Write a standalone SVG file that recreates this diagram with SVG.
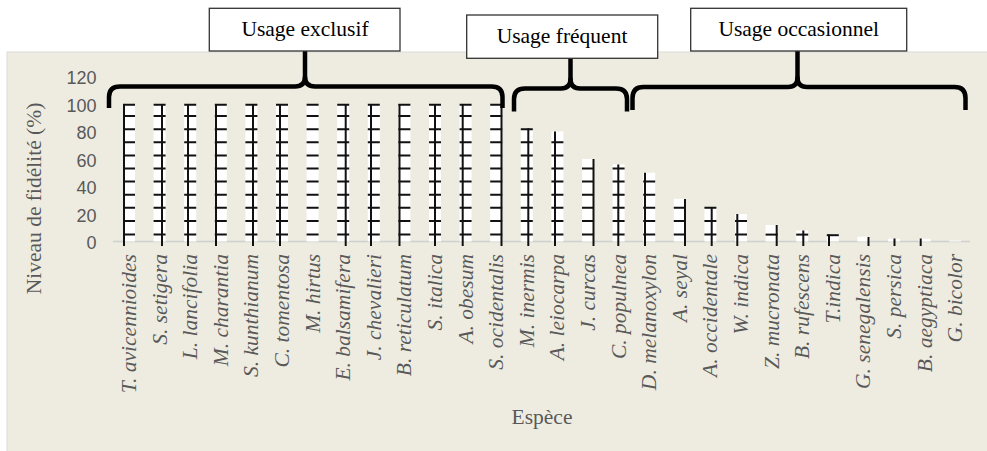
<svg xmlns="http://www.w3.org/2000/svg" width="987" height="451" viewBox="0 0 987 451">
<style>
.serif{font-family:"Liberation Serif","Times New Roman",serif}
.tick{font-family:"Liberation Sans",Arial,sans-serif;font-size:18px;fill:#595959;text-anchor:end}
.sp{font-family:"Liberation Serif","Times New Roman",serif;font-style:italic;font-size:21.5px;fill:#595959;text-anchor:end}
.bar{fill:#ffffff}
.dash{stroke:#111;stroke-width:2;fill:none}
.vl{stroke:#111;stroke-width:2;fill:none}
.box{fill:#ffffff;stroke:#333;stroke-width:1.3}
.boxt{font-family:"Liberation Serif","Times New Roman",serif;font-size:21.5px;fill:#000;text-anchor:middle}
.brace{fill:none;stroke:#000;stroke-width:4.5;stroke-linejoin:round;stroke-linecap:butt}
</style>
<rect x="0" y="0" width="987" height="451" fill="#ffffff"/>
<rect id="plot-area" x="7" y="52" width="985" height="404" fill="#EEECE1" stroke="#D9D9D9" stroke-width="1"/>

<g id="y-axis">
<text class="tick" x="96.5" y="249">0</text>
<text class="tick" x="96.5" y="221.5">20</text>
<text class="tick" x="96.5" y="194">40</text>
<text class="tick" x="96.5" y="166.5">60</text>
<text class="tick" x="96.5" y="139">80</text>
<text class="tick" x="96.5" y="111.5">100</text>
<text class="tick" x="96.5" y="84">120</text>
<text class="serif" transform="translate(40.5,198.5) rotate(-90)" text-anchor="middle" font-size="21.5" fill="#595959">Niveau de fidélité (%)</text>
</g>

<line id="x-axis" x1="113" y1="241.5" x2="970" y2="241.5" stroke="#CFCFCF" stroke-width="1.5"/>

<g id="bars">
<!-- 13 bars at 100% -->
<g id="bar-1"><rect class="bar" x="123" y="104" width="12" height="137.5"/><path class="dash" d="M123,234.6h12M123,221.1h12M123,207.8h12M123,194.8h12M123,181.6h12M123,168.5h12M123,155.5h12M123,142.3h12M123,129.3h12M123,116.1h12M123,104.7h12"/><path class="vl" d="M124,104V246"/></g>
<g id="bar-2"><rect class="bar" x="153.6" y="104" width="12" height="137.5"/><path class="dash" d="M153.6,234.6h12M153.6,221.1h12M153.6,207.8h12M153.6,194.8h12M153.6,181.6h12M153.6,168.5h12M153.6,155.5h12M153.6,142.3h12M153.6,129.3h12M153.6,116.1h12M153.6,104.7h12"/><path class="vl" d="M162,104V246"/></g>
<g id="bar-3"><rect class="bar" x="184.2" y="104" width="12" height="137.5"/><path class="dash" d="M184.2,234.6h12M184.2,221.1h12M184.2,207.8h12M184.2,194.8h12M184.2,181.6h12M184.2,168.5h12M184.2,155.5h12M184.2,142.3h12M184.2,129.3h12M184.2,116.1h12M184.2,104.7h12"/><path class="vl" d="M188,104V246"/></g>
<g id="bar-4"><rect class="bar" x="214.8" y="104" width="12" height="137.5"/><path class="dash" d="M214.8,234.6h12M214.8,221.1h12M214.8,207.8h12M214.8,194.8h12M214.8,181.6h12M214.8,168.5h12M214.8,155.5h12M214.8,142.3h12M214.8,129.3h12M214.8,116.1h12M214.8,104.7h12"/><path class="vl" d="M216,104V246"/></g>
<g id="bar-5"><rect class="bar" x="245.4" y="104" width="12" height="137.5"/><path class="dash" d="M245.4,234.6h12M245.4,221.1h12M245.4,207.8h12M245.4,194.8h12M245.4,181.6h12M245.4,168.5h12M245.4,155.5h12M245.4,142.3h12M245.4,129.3h12M245.4,116.1h12M245.4,104.7h12"/><path class="vl" d="M253,104V246"/></g>
<g id="bar-6"><rect class="bar" x="276" y="104" width="12" height="137.5"/><path class="dash" d="M276,234.6h12M276,221.1h12M276,207.8h12M276,194.8h12M276,181.6h12M276,168.5h12M276,155.5h12M276,142.3h12M276,129.3h12M276,116.1h12M276,104.7h12"/><path class="vl" d="M280,104V246"/></g>
<g id="bar-7"><rect class="bar" x="306.6" y="104" width="12" height="137.5"/><path class="dash" d="M306.6,234.6h12M306.6,221.1h12M306.6,207.8h12M306.6,194.8h12M306.6,181.6h12M306.6,168.5h12M306.6,155.5h12M306.6,142.3h12M306.6,129.3h12M306.6,116.1h12M306.6,104.7h12"/></g>
<g id="bar-8"><rect class="bar" x="337.2" y="104" width="12" height="137.5"/><path class="dash" d="M337.2,234.6h12M337.2,221.1h12M337.2,207.8h12M337.2,194.8h12M337.2,181.6h12M337.2,168.5h12M337.2,155.5h12M337.2,142.3h12M337.2,129.3h12M337.2,116.1h12M337.2,104.7h12"/><path class="vl" d="M345.7,104V246"/></g>
<g id="bar-9"><rect class="bar" x="367.8" y="104" width="12" height="137.5"/><path class="dash" d="M367.8,234.6h12M367.8,221.1h12M367.8,207.8h12M367.8,194.8h12M367.8,181.6h12M367.8,168.5h12M367.8,155.5h12M367.8,142.3h12M367.8,129.3h12M367.8,116.1h12M367.8,104.7h12"/><path class="vl" d="M371,104V246"/></g>
<g id="bar-10"><rect class="bar" x="398.4" y="104" width="12" height="137.5"/><path class="dash" d="M398.4,234.6h12M398.4,221.1h12M398.4,207.8h12M398.4,194.8h12M398.4,181.6h12M398.4,168.5h12M398.4,155.5h12M398.4,142.3h12M398.4,129.3h12M398.4,116.1h12M398.4,104.7h12"/><path class="vl" d="M399.5,104V246" stroke="#888"/></g>
<g id="bar-11"><rect class="bar" x="429" y="104" width="12" height="137.5"/><path class="dash" d="M429,234.6h12M429,221.1h12M429,207.8h12M429,194.8h12M429,181.6h12M429,168.5h12M429,155.5h12M429,142.3h12M429,129.3h12M429,116.1h12M429,104.7h12"/><path class="vl" d="M435,104V246"/></g>
<g id="bar-12"><rect class="bar" x="459.6" y="104" width="12" height="137.5"/><path class="dash" d="M459.6,234.6h12M459.6,221.1h12M459.6,207.8h12M459.6,194.8h12M459.6,181.6h12M459.6,168.5h12M459.6,155.5h12M459.6,142.3h12M459.6,129.3h12M459.6,116.1h12M459.6,104.7h12"/><path class="vl" d="M462.7,104V246"/></g>
<g id="bar-13"><rect class="bar" x="490.2" y="104" width="12" height="137.5"/><path class="dash" d="M490.2,234.6h12M490.2,221.1h12M490.2,207.8h12M490.2,194.8h12M490.2,181.6h12M490.2,168.5h12M490.2,155.5h12M490.2,142.3h12M490.2,129.3h12M490.2,116.1h12M490.2,104.7h12"/><path class="vl" d="M501.5,104V246"/></g>
<!-- frequent -->
<g id="bar-14"><rect class="bar" x="520.8" y="128.75" width="12" height="112.75"/><path class="dash" d="M520.8,234.6h12M520.8,221.1h12M520.8,207.8h12M520.8,194.8h12M520.8,181.6h12M520.8,168.5h12M520.8,155.5h12M520.8,142.3h12M520.8,129.3h12"/><path class="vl" d="M528.3,128.3V246"/></g>
<g id="bar-15"><rect class="bar" x="551.4" y="131.5" width="12" height="110"/><path class="dash" d="M551.4,234.6h12M551.4,221.1h12M551.4,207.8h12M551.4,194.8h12M551.4,181.6h12M551.4,168.5h12M551.4,155.5h12M551.4,142.3h12"/><path class="vl" d="M555,131.5V246"/></g>
<g id="bar-16"><rect class="bar" x="582" y="159" width="12" height="82.5"/><path class="dash" d="M582,234.6h12M582,221.1h12M582,207.8h12M582,194.8h12M582,181.6h12M582,168.5h12"/><path class="vl" d="M593.5,159V246"/></g>
<g id="bar-17"><rect class="bar" x="612.6" y="164.5" width="12" height="77"/><path class="dash" d="M612.6,234.6h12M612.6,221.1h12M612.6,207.8h12M612.6,194.8h12M612.6,181.6h12M612.6,168.5h12"/><path class="vl" d="M618.3,164.5V246"/></g>
<!-- occasional -->
<g id="bar-18"><rect class="bar" x="643.2" y="172.75" width="12" height="68.75"/><path class="dash" d="M643.2,234.6h12M643.2,221.1h12M643.2,207.8h12M643.2,194.8h12M643.2,181.6h12"/><path class="vl" d="M645,172.75V246"/></g>
<g id="bar-19"><rect class="bar" x="673.8" y="198.9" width="12" height="42.6"/><path class="dash" d="M673.8,234.6h12M673.8,221.1h12M673.8,207.8h12"/><path class="vl" d="M685,198.9V246"/></g>
<g id="bar-20"><rect class="bar" x="704.4" y="207.1" width="12" height="34.4"/><path class="dash" d="M704.4,234.6h12M704.4,221.1h12M704.4,207.8h12"/><path class="vl" d="M711.7,207.1V246"/></g>
<g id="bar-21"><rect class="bar" x="735" y="214" width="12" height="27.5"/><path class="dash" d="M735,234.6h12M735,221.1h12"/><path class="vl" d="M737.3,214V246"/></g>
<g id="bar-22"><rect class="bar" x="765.6" y="225" width="12" height="16.5"/><path class="dash" d="M765.6,234.6h12"/><path class="vl" d="M776.7,225V246"/></g>
<g id="bar-23"><rect class="bar" x="796.2" y="230.5" width="12" height="11"/><path class="dash" d="M796.2,234.6h12"/><path class="vl" d="M803.3,230.5V246"/></g>
<g id="bar-24"><rect class="bar" x="826.8" y="234.6" width="12" height="6.9"/><path class="dash" d="M826.8,235.2h12"/><path class="vl" d="M829,234.6V246"/></g>
<g id="bar-25"><rect class="bar" x="857.4" y="236.7" width="12" height="4.8"/><path class="vl" d="M868.5,237V246"/></g>
<g id="bar-26"><rect class="bar" x="888" y="238.75" width="12" height="2.75"/><path class="vl" d="M894.5,238.5V246"/></g>
<g id="bar-27"><rect class="bar" x="918.6" y="238.75" width="12" height="2.75"/><path class="vl" d="M920.7,238.5V246"/></g>
<g id="bar-28"><rect class="bar" x="949.2" y="240.5" width="12" height="1"/></g>
</g>

<g id="x-labels">
<text class="sp" transform="translate(136,254) rotate(-90)">T. avicennioides</text>
<text class="sp" transform="translate(166.6,254) rotate(-90)">S. setigera</text>
<text class="sp" transform="translate(197.2,254) rotate(-90)">L. lancifolia</text>
<text class="sp" transform="translate(227.8,254) rotate(-90)">M. charantia</text>
<text class="sp" transform="translate(258.4,254) rotate(-90)">S. kunthianum</text>
<text class="sp" transform="translate(289,254) rotate(-90)">C. tomentosa</text>
<text class="sp" transform="translate(319.6,254) rotate(-90)">M. hirtus</text>
<text class="sp" transform="translate(350.2,254) rotate(-90)">E. balsamifera</text>
<text class="sp" transform="translate(380.8,254) rotate(-90)">J. chevalieri</text>
<text class="sp" transform="translate(411.4,254) rotate(-90)">B. reticulatum</text>
<text class="sp" transform="translate(442,254) rotate(-90)">S. italica</text>
<text class="sp" transform="translate(472.6,254) rotate(-90)">A. obesum</text>
<text class="sp" transform="translate(503.2,254) rotate(-90)">S. ocidentalis</text>
<text class="sp" transform="translate(533.8,254) rotate(-90)">M. inermis</text>
<text class="sp" transform="translate(564.4,254) rotate(-90)">A. leiocarpa</text>
<text class="sp" transform="translate(595,254) rotate(-90)">J. curcas</text>
<text class="sp" transform="translate(625.6,254) rotate(-90)">C. populnea</text>
<text class="sp" transform="translate(656.2,254) rotate(-90)">D. melanoxylon</text>
<text class="sp" transform="translate(686.8,254) rotate(-90)">A. seyal</text>
<text class="sp" transform="translate(717.4,254) rotate(-90)">A. occidentale</text>
<text class="sp" transform="translate(748,254) rotate(-90)">W. indica</text>
<text class="sp" transform="translate(778.6,254) rotate(-90)">Z. mucronata</text>
<text class="sp" transform="translate(809.2,254) rotate(-90)">B. rufescens</text>
<text class="sp" transform="translate(839.8,254) rotate(-90)">T.indica</text>
<text class="sp" transform="translate(870.4,254) rotate(-90)">G. senegalensis</text>
<text class="sp" transform="translate(901,254) rotate(-90)">S. persica</text>
<text class="sp" transform="translate(931.6,254) rotate(-90)">B. aegyptiaca</text>
<text class="sp" transform="translate(962.2,254) rotate(-90)">G. bicolor</text>
<text class="serif" x="542" y="424.3" text-anchor="middle" font-size="21.5" fill="#595959">Espèce</text>
</g>

<g id="connectors">
<path class="brace" d="M109,108V97Q109,86.5 120,86.5H295Q305,86.5 305,77Q305,86.5 315,86.5H491.5Q502.5,86.5 502.5,97V108"/>
<path class="brace" d="M305,51V80"/>
<path class="brace" d="M514,111.5V99Q514,88.5 525,88.5H561Q570.5,88.5 570.5,79Q570.5,88.5 580,88.5H616Q627,88.5 627,99V111.5"/>
<path class="brace" d="M570.5,58.3V82"/>
<path class="brace" d="M632.5,110V98Q632.5,87 643.5,87H788Q797.5,87 797.5,77.5Q797.5,87 807,87H954.5Q965.5,87 965.5,98V110"/>
<path class="brace" d="M797.5,51V80"/>
</g>

<g id="box-exclusif">
<rect class="box" x="209.3" y="8.3" width="190.7" height="42.7"/>
<text class="boxt" x="305" y="36">Usage exclusif</text>
</g>
<g id="box-frequent">
<rect class="box" x="466.7" y="15" width="191" height="43.3"/>
<text class="boxt" x="562" y="43.3">Usage fréquent</text>
</g>
<g id="box-occasionnel">
<rect class="box" x="690.7" y="8.3" width="216" height="42.7"/>
<text class="boxt" x="798.7" y="35.5">Usage occasionnel</text>
</g>
</svg>
